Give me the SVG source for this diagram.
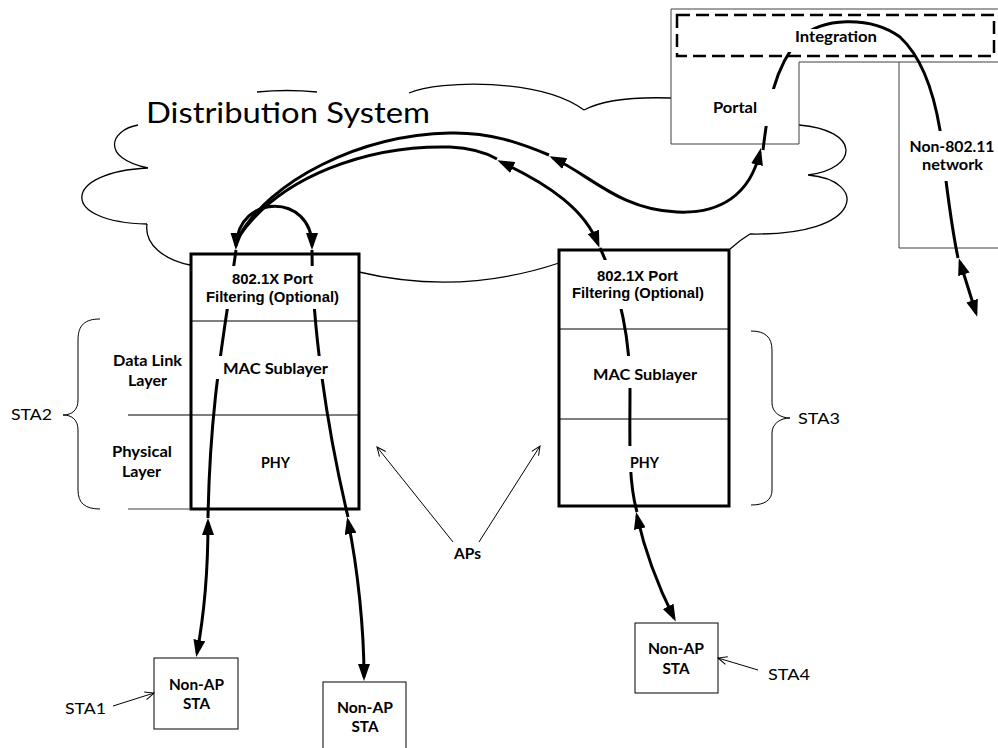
<svg xmlns="http://www.w3.org/2000/svg" width="998" height="748" viewBox="0 0 998 748">
<style>
.thin{fill:none;stroke:#000;stroke-width:1}
.grey{fill:none;stroke:#404040;stroke-width:1}
.box{fill:#fff;stroke:#000;stroke-width:1}
.ap{fill:#fff;stroke:#000;stroke-width:3}
.cloud{fill:none;stroke:#000;stroke-width:1.3}
.conn{fill:none;stroke:#000;stroke-width:3}
.dbl{marker-start:url(#ah);marker-end:url(#ah)}
.pt{fill:none;stroke:#000;stroke-width:1;marker-end:url(#oa)}
.gap{fill:#fff;stroke:none}
.lbl{font-family:Lato,"Open Sans",sans-serif;font-weight:bold;font-size:15px;text-anchor:middle;fill:#000}
.ar{font-family:"Liberation Sans",Arial,sans-serif;font-weight:bold;font-size:15px;text-anchor:middle;fill:#000}
.sta{font-family:Lato,"Open Sans",sans-serif;font-size:16px;fill:#000}
.big{font-family:Lato,"Open Sans",sans-serif;font-size:29px;fill:#000}
</style>
<defs>
<marker id="ah" viewBox="0 0 17 12" refX="13" refY="6" markerWidth="17" markerHeight="12" markerUnits="userSpaceOnUse" orient="auto-start-reverse"><path d="M0,0 L17,6 L0,12 z" fill="#000"/></marker>
<marker id="oa" viewBox="-1 -1 11 10" refX="9" refY="4" markerWidth="11" markerHeight="10" markerUnits="userSpaceOnUse" orient="auto" overflow="visible"><path d="M0,0 L9,4 L0,8" fill="none" stroke="#000" stroke-width="1"/></marker>
</defs>
<rect x="0" y="0" width="998" height="748" fill="#fff"/>

<g id="distribution-system">
<path class="cloud" d="M138,125 C110,130 100,158 148,168 M148,168 C62,172 58,222 147,224 M147,224 C144,245 165,260 190,265 M257,92 Q287,89 317,92 M409,93 C440,80 540,78 584,110 M584,110 Q610,96 671,98 M799,125 C860,130 860,168 808,175 M808,175 C868,180 866,236 750,234 M750,234 Q740,240 730,249 M359,272 Q460,296 559,263"/>
<text class="big" x="146" y="123" textLength="284" lengthAdjust="spacingAndGlyphs">Distribution System</text>
</g>

<g id="portal-integration">
<path class="grey" d="M671,144 L671,9 L998,9 M671,144 L799,144 L799,62 L998,62"/>
<rect x="677" y="15" width="317" height="41" fill="none" stroke="#000" stroke-width="2.5" stroke-dasharray="13 6"/>
</g>
<g id="non-802-11-network">
<path class="grey" d="M899,62 L899,248 L998,248"/>
</g>

<g id="ap-sta2">
<rect class="ap" x="191" y="254" width="168" height="255"/>
<path class="thin" d="M191,321 L359,321 M128,415 L359,415"/>
<path class="grey" d="M128,509 L191,509" stroke="#777"/>
<path class="thin" d="M100,319 C85,319 78,325 78,340 L78,400 C78,410 72,415 63,415 C72,415 78,420 78,430 L78,490 C78,503 85,509 100,509"/>
</g>
<g id="ap-sta3">
<rect class="ap" x="559" y="250" width="170" height="256"/>
<path class="thin" d="M559,329 L729,329 M559,419 L729,419"/>
<path class="thin" d="M751,331 C765,331 772,337 772,350 L772,403 C772,412 780,418 790,418 C780,418 772,424 772,433 L772,490 C772,500 765,505 751,505"/>
</g>
<g id="sta1"><rect class="box" x="154" y="658" width="84" height="71"/></g>
<g id="sta-mid"><rect class="box" x="323" y="682" width="83" height="80"/></g>
<g id="sta4"><rect class="box" x="635" y="623" width="83" height="70"/></g>

<g id="connectors">
<path class="conn dbl" d="M236,246 C238,193 312,193 312,246"/>
<path class="conn" d="M549,155 C520,143 490,132 450,133 C360,135 270,180 238,238"/>
<path class="conn dbl" d="M760,152 C750,195 720,214 677,212 C620,210 590,175 553,158"/>
<path class="conn" d="M497,159 C485,152 470,148 450,147 C370,145 280,175 238,238"/>
<path class="conn dbl" d="M598,244 C585,210 550,185 501,162"/>
<path class="conn" d="M600,248 C620,290 630,340 630,390 C630,440 628,480 637,512"/>
<path class="conn dbl" d="M637,516 C645,552 660,590 674,618"/>
<path class="conn" d="M236,250 C225,330 210,400 208,518"/>
<path class="conn dbl" d="M208,522 C208,560 205,610 197,653"/>
<path class="conn" d="M312,250 C312,320 325,420 348,517"/>
<path class="conn dbl" d="M348,521 C358,570 364,630 364,677"/>
<path class="conn" d="M763,150 C768,110 772,70 800,38 C820,18 870,15 900,37 C925,60 935,100 940,130 C945,175 950,220 958,258"/>
<path class="conn dbl" d="M960,262 L976,313"/>
<path class="pt" d="M453,542 L377,447"/>
<path class="pt" d="M479,542 L540,446"/>
<path class="pt" d="M113,706 L154,693"/>
<path class="pt" d="M758,670 L718,658"/>
</g>

<g id="labels">
<rect class="gap" x="195" y="266" width="160" height="43"/>
<rect class="gap" x="195" y="356" width="160" height="23"/>
<rect class="gap" x="564" y="260" width="160" height="49"/>
<rect class="gap" x="564" y="356" width="160" height="32"/>
<rect class="gap" x="600" y="446" width="80" height="26"/>
<rect class="gap" x="700" y="89" width="90" height="37"/>
<rect class="gap" x="780" y="29" width="100" height="23"/>
<rect class="gap" x="905" y="131" width="90" height="50"/>

<text class="ar" x="272.5" y="284" textLength="81" lengthAdjust="spacingAndGlyphs">802.1X Port</text>
<text class="ar" x="272.5" y="302" textLength="133" lengthAdjust="spacingAndGlyphs">Filtering (Optional)</text>
<text class="lbl" x="275.5" y="374" textLength="105" lengthAdjust="spacingAndGlyphs">MAC Sublayer</text>
<text class="lbl" x="275.5" y="468" textLength="29" lengthAdjust="spacingAndGlyphs">PHY</text>
<text class="lbl" x="147.5" y="366" textLength="69" lengthAdjust="spacingAndGlyphs">Data Link</text>
<text class="lbl" x="147.5" y="386" textLength="39" lengthAdjust="spacingAndGlyphs">Layer</text>
<text class="lbl" x="142" y="457" textLength="60" lengthAdjust="spacingAndGlyphs">Physical</text>
<text class="lbl" x="141.5" y="477" textLength="39" lengthAdjust="spacingAndGlyphs">Layer</text>
<text class="sta" x="11" y="420" textLength="41" lengthAdjust="spacingAndGlyphs">STA2</text>

<text class="ar" x="637.5" y="281" textLength="81" lengthAdjust="spacingAndGlyphs">802.1X Port</text>
<text class="ar" x="638" y="298" textLength="132" lengthAdjust="spacingAndGlyphs">Filtering (Optional)</text>
<text class="lbl" x="645" y="380" textLength="104" lengthAdjust="spacingAndGlyphs">MAC Sublayer</text>
<text class="lbl" x="644.5" y="468" textLength="29" lengthAdjust="spacingAndGlyphs">PHY</text>
<text class="sta" x="798" y="424" textLength="42" lengthAdjust="spacingAndGlyphs">STA3</text>

<text class="lbl" x="836" y="42" textLength="82" lengthAdjust="spacingAndGlyphs">Integration</text>
<text class="lbl" x="735" y="113" textLength="44" lengthAdjust="spacingAndGlyphs">Portal</text>
<text class="lbl" x="952" y="152" textLength="85" lengthAdjust="spacingAndGlyphs">Non-802.11</text>
<text class="lbl" x="952.5" y="170" textLength="61" lengthAdjust="spacingAndGlyphs">network</text>

<text class="lbl" x="467.5" y="559" textLength="27" lengthAdjust="spacingAndGlyphs">APs</text>

<text class="lbl" x="196.5" y="690" textLength="55" lengthAdjust="spacingAndGlyphs">Non-AP</text>
<text class="lbl" x="196.5" y="709" textLength="27" lengthAdjust="spacingAndGlyphs">STA</text>
<text class="sta" x="65" y="714" textLength="41" lengthAdjust="spacingAndGlyphs">STA1</text>

<text class="lbl" x="365" y="713" textLength="56" lengthAdjust="spacingAndGlyphs">Non-AP</text>
<text class="lbl" x="365" y="732" textLength="27" lengthAdjust="spacingAndGlyphs">STA</text>

<text class="lbl" x="676" y="654" textLength="56" lengthAdjust="spacingAndGlyphs">Non-AP</text>
<text class="lbl" x="676" y="674" textLength="27" lengthAdjust="spacingAndGlyphs">STA</text>
<text class="sta" x="768" y="680" textLength="42" lengthAdjust="spacingAndGlyphs">STA4</text>
</g>
</svg>
